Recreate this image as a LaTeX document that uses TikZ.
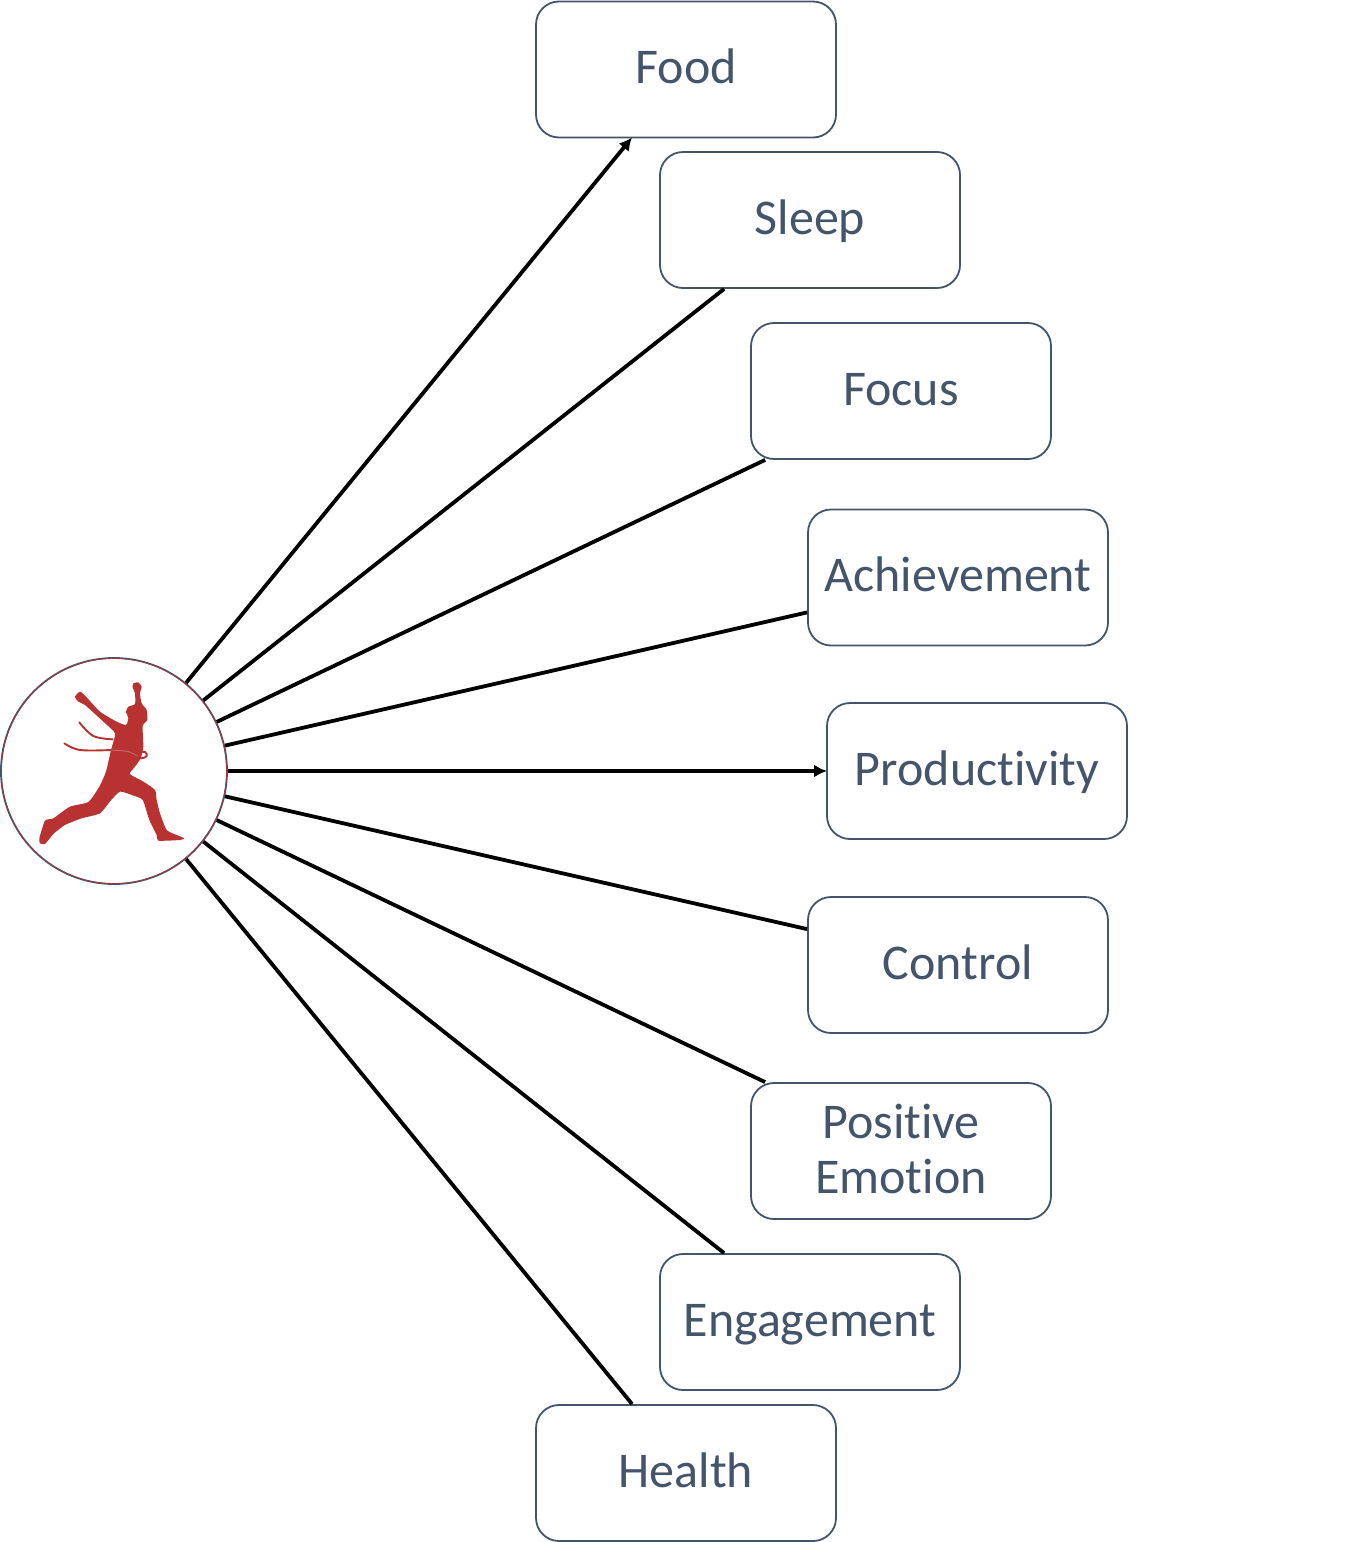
\documentclass[tikz,border=0pt]{standalone}
\usepackage{fontspec}
\setmainfont{Carlito}[Ligatures=NoCommon]
\usetikzlibrary{arrows.meta}
\definecolor{slate}{HTML}{44546A}
\definecolor{runner}{HTML}{B83232}
\newcommand{\linestrut}{\rule[-14pt]{0pt}{56pt}}
\tikzset{
  x=1pt,y=-1pt,
  box/.style={draw=slate,line width=1.8pt,fill=white,rounded corners=23pt,minimum width=300pt,minimum height=136pt,inner sep=0pt,align=center,text=slate,font=\fontsize{50}{54.5}\selectfont},
  hubnode/.style={circle,draw=slate,line width=1.8pt,fill=white,minimum size=226pt,inner sep=0pt},
  link/.style={line width=3.8pt,black},
  arrowlink/.style={link,-{Latex[length=13pt,width=13pt]}},
  ribbon/.style={draw=runner,line width=1.9pt,line cap=round}
}
\begin{document}
\begin{tikzpicture}
\useasboundingbox (0,0) rectangle (1360,1542);
\node[hubnode] (hub) at (114,771) {};
\draw[runner,line width=0.6pt] (hub.center) circle (112.6);
\begin{scope}[shift={(0,650)},x=0.3333pt,y=-0.3333pt]
\fill[runner] plot[smooth cycle,tension=0.35] coordinates {(400,100)(415,97)(425,110)(420,130)(425,160)(440,180)(442,210)(428,228)(430,290)(422,325)(405,350)(390,372)(430,395)(465,420)(470,450)(480,490)(500,540)(530,555)(553,565)(540,570)(475,572)(470,555)(448,510)(428,450)(395,435)(360,425)(332,452)(300,490)(245,505)(195,525)(160,552)(135,582)(120,580)(118,565)(135,512)(160,505)(210,470)(265,456)(298,410)(318,365)(333,300)(345,250)(310,215)(255,165)(235,155)(225,140)(240,125)(258,140)(300,185)(350,215)(378,225)(385,205)(378,185)(385,170)(405,162)(405,130)(398,112)};
\draw[ribbon] plot[smooth,tension=0.6] coordinates {(238,217)(280,258)(338,268)};
\draw[ribbon] plot[smooth,tension=0.6] coordinates {(193,280)(240,300)(335,300)};
\draw[ribbon,draw=runner!75!white,line width=1pt] plot[smooth,tension=0.6] coordinates {(335,300)(385,305)(412,318)};
\draw[ribbon] plot[smooth,tension=0.7] coordinates {(418,308)(435,306)(440,318)(425,325)(414,318)};
\end{scope}
\node[box] (food) at (686,69.5) {\linestrut Food};
\node[box] (sleep) at (810,220) {\linestrut Sleep};
\node[box] (focus) at (901,391) {\linestrut Focus};
\node[box] (achievement) at (958,577.5) {\linestrut Achievement};
\node[box] (productivity) at (977,771) {\linestrut Productivity};
\node[box] (control) at (958,965) {\linestrut Control};
\node[box] (positive) at (901,1151) {Positive\\Emotion\rule[-4pt]{0pt}{0pt}};
\node[box] (engagement) at (810,1322) {\linestrut Engagement};
\node[box] (health) at (686,1473) {\linestrut Health};
\draw[arrowlink] (hub) -- ([xshift=97pt,yshift=1pt]food.south west);
\draw[link] (hub) -- ([xshift=65pt]sleep.south west);
\draw[link] (hub) -- ([xshift=15pt]focus.south west);
\draw[link] (hub) -- ([yshift=34pt]achievement.south west);
\draw[arrowlink] (hub) -- ([xshift=0.9pt]productivity.west);
\draw[link] (hub) -- ([yshift=-33pt]control.north west);
\draw[link] (hub) -- ([xshift=15pt]positive.north west);
\draw[link] (hub) -- ([xshift=65pt]engagement.north west);
\draw[link] (hub) -- ([xshift=97pt]health.north west);
\end{tikzpicture}
\end{document}
